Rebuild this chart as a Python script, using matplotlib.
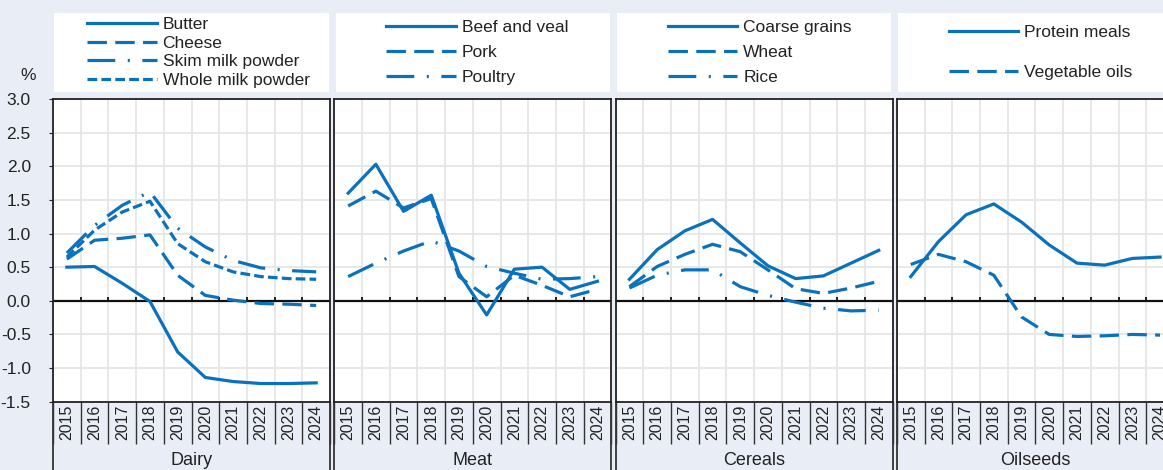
import matplotlib

matplotlib.use("Agg")
import matplotlib.pyplot as plt
from matplotlib.patches import Rectangle

plt.rcParams["font.family"] = ["Liberation Sans", "DejaVu Sans"]
plt.rcParams["lines.scale_dashes"] = False

years = ["2015", "2016", "2017", "2018", "2019", "2020", "2021", "2022", "2023", "2024"]

# Dairy
butter = [0.50, 0.51, 0.26, -0.01, -0.76, -1.14, -1.20, -1.23, -1.23, -1.22]
cheese = [0.62, 0.90, 0.93, 0.98, 0.38, 0.08, 0.01, -0.04, -0.05, -0.07]
skim_milk_powder = [0.71, 1.12, 1.42, 1.62, 1.08, 0.80, 0.60, 0.49, 0.45, 0.43]
whole_milk_powder = [0.65, 1.05, 1.32, 1.48, 0.85, 0.58, 0.43, 0.36, 0.33, 0.32]

# Meat
beef_and_veal = [1.60, 2.03, 1.33, 1.57, 0.41, -0.21, 0.47, 0.50, 0.17, 0.29]
pork = [1.41, 1.63, 1.38, 1.52, 0.36, 0.06, 0.38, 0.23, 0.06, 0.17]
poultry = [0.36, 0.56, 0.74, 0.89, 0.74, 0.51, 0.41, 0.32, 0.33, 0.36]

# Cereals
coarse_grains = [0.32, 0.76, 1.04, 1.21, 0.86, 0.52, 0.33, 0.37, 0.56, 0.75]
wheat = [0.21, 0.51, 0.69, 0.84, 0.73, 0.46, 0.18, 0.11, 0.19, 0.29]
rice = [0.19, 0.38, 0.46, 0.46, 0.21, 0.08, -0.02, -0.11, -0.15, -0.14]

# Oilseeds
protein_meals = [0.36, 0.88, 1.28, 1.44, 1.17, 0.83, 0.56, 0.53, 0.63, 0.65]
vegetable_oils = [0.54, 0.69, 0.58, 0.38, -0.24, -0.50, -0.53, -0.52, -0.50, -0.51]

panels = [
    ("Dairy", [("Butter", butter), ("Cheese", cheese),
               ("Skim milk powder", skim_milk_powder),
               ("Whole milk powder", whole_milk_powder)]),
    ("Meat", [("Beef and veal", beef_and_veal), ("Pork", pork), ("Poultry", poultry)]),
    ("Cereals", [("Coarse grains", coarse_grains), ("Wheat", wheat), ("Rice", rice)]),
    ("Oilseeds", [("Protein meals", protein_meals), ("Vegetable oils", vegetable_oils)]),
]

styles = ["-", (0, (14, 6)), (0, (20, 9, 1.5, 9)), (0, (7, 3))]

BLUE = "#0b71bd"
BG = "#e9edf5"
W, H = 1163, 470

fig = plt.figure(figsize=(W / 100, H / 100), dpi=100, facecolor=BG)

left0, step, pw = 53, 281.3, 277
top, bottom = 99, 401.7
ph = bottom - top
x = list(range(len(years)))

for k, (name, series) in enumerate(panels):
    ax = fig.add_axes([(left0 + k * step) / W, (H - bottom) / H, pw / W, ph / H])
    ax.set_facecolor("white")
    ax.set_xlim(-0.5, 9.5)
    ax.set_ylim(-1.5, 3.0)
    ax.set_yticks([-1.5, -1.0, -0.5, 0.0, 0.5, 1.0, 1.5, 2.0, 2.5, 3.0])
    ax.set_xticks(x, years, rotation=90, fontsize=11.5)
    ax.set_xticks([i + 0.5 for i in range(-1, 10)], minor=True)
    ax.grid(True, which="minor", axis="x", color="#e6e6e6", lw=1.3)
    ax.grid(True, which="major", axis="y", color="#e6e6e6", lw=1.3)
    ax.tick_params(axis="x", which="both", length=0, pad=2, colors="#222222")
    ax.set_axisbelow(True)
    if k == 0:
        ax.tick_params(axis="y", length=3, pad=13, labelsize=12.5, colors="#222222")
        ax.set_yticklabels([f"{v:.1f}" for v in ax.get_yticks()])
        ax.text(-0.09, 1.079, "%", transform=ax.transAxes, ha="center", va="center",
                fontsize=12.5, color="#222222")
    else:
        ax.tick_params(axis="y", length=0, labelleft=False)
    for sp in ax.spines.values():
        sp.set_color("#222222")
        sp.set_linewidth(1.3)

    ax.axhline(0, color="#111111", lw=1.6, zorder=2)
    ax.vlines([i + 0.5 for i in range(9)], 0, 0.06, color="#111111", lw=1.3, zorder=2)

    # separators in the label area
    xt = ax.get_xaxis_transform()
    ax.vlines([i + 0.5 for i in range(-1, 10)], -0.14, 0, transform=xt,
              color="#333333", lw=1.0, clip_on=False)
    ax.vlines([-0.5, 9.5], -0.3, 0, transform=xt, color="#333333", lw=1.3, clip_on=False)
    ax.text(0.5, -0.193, name, transform=ax.transAxes, ha="center", va="center",
            fontsize=13, color="#222222")

    for (label, vals), ls in zip(series, styles):
        ax.plot(x, vals, color=BLUE, lw=2.3, linestyle=ls, label=label, zorder=3)

    # legend box
    ax.add_patch(Rectangle((0.005, 1.023), 0.99, 0.261, transform=ax.transAxes,
                           facecolor="white", edgecolor="none", clip_on=False, zorder=0))
    spacing = {4: 0.2, 3: 0.58, 2: 1.4}[len(series)]
    xoff = 0.123 if k == 0 else 0.188
    ax.legend(loc="center left", bbox_to_anchor=(xoff, 1.023 + 0.1305), frameon=False,
              fontsize=12.5, handlelength=4.0, handletextpad=0.35, labelspacing=spacing,
              borderpad=0, borderaxespad=0, labelcolor="#222222")

fig.savefig("out.png", dpi=100, facecolor=BG)
